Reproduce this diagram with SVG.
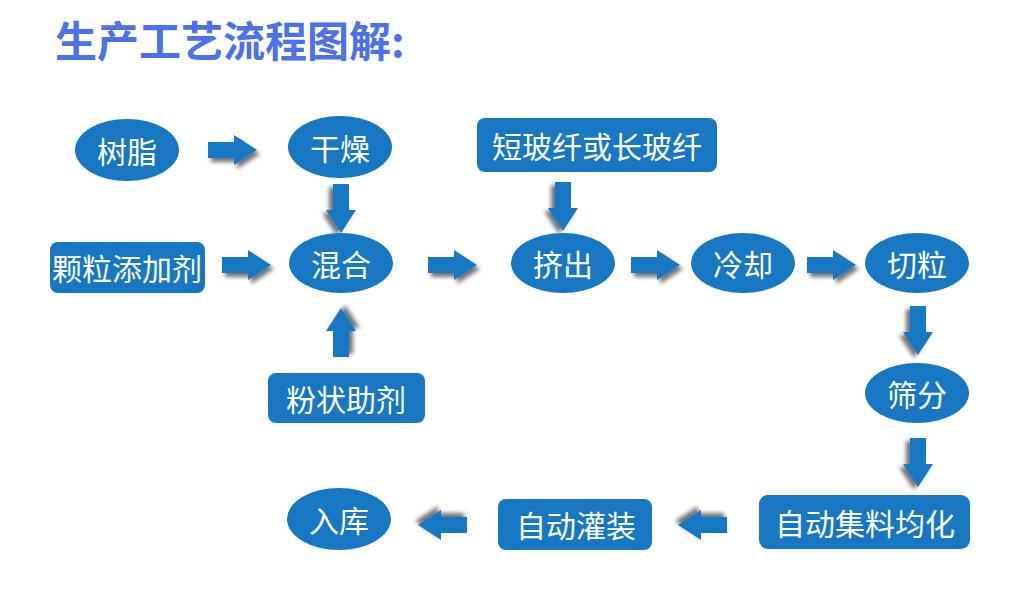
<svg xmlns="http://www.w3.org/2000/svg" width="1025" height="613" viewBox="0 0 1025 613">
<style>
.n{fill:#1877c3}
.t{fill:#fff;font-family:"Noto Sans CJK SC",sans-serif;font-size:30px;text-anchor:middle;dominant-baseline:central}
.title{fill:#4d70ec;font-family:"Noto Sans CJK SC",sans-serif;font-size:42px;font-weight:bold}
.a{fill:#1877c3;filter:url(#sh)}
</style>
<defs>
<filter id="sh" x="-30%" y="-30%" width="170%" height="170%">
<feDropShadow dx="3" dy="4" stdDeviation="2" flood-color="#000" flood-opacity="0.55"/>
</filter>
<path id="ar" d="M0,-8 H26 V-15 L49,0 L26,15 V8 H0 Z"/>
</defs>
<text class="title" x="55" y="57">生产工艺流程图解:</text>
<g id="connectors">
<use href="#ar" class="a" transform="translate(208,150)"/>
<use href="#ar" class="a" transform="translate(341,184) rotate(90)"/>
<use href="#ar" class="a" transform="translate(222,265)"/>
<use href="#ar" class="a" transform="translate(341,357) rotate(-90)"/>
<use href="#ar" class="a" transform="translate(428,265)"/>
<use href="#ar" class="a" transform="translate(563,182) rotate(90)"/>
<use href="#ar" class="a" transform="translate(631,265)"/>
<use href="#ar" class="a" transform="translate(807,265)"/>
<use href="#ar" class="a" transform="translate(918,306) rotate(90)"/>
<use href="#ar" class="a" transform="translate(918,438) rotate(90)"/>
<use href="#ar" class="a" transform="translate(727,525) rotate(180)"/>
<use href="#ar" class="a" transform="translate(467,525) rotate(180)"/>
</g>
<g id="resin"><ellipse class="n" cx="127" cy="150" rx="52" ry="31"/><text class="t" x="127" y="150">树脂</text></g>
<g id="dry"><ellipse class="n" cx="340" cy="147" rx="52" ry="31"/><text class="t" x="340" y="147">干燥</text></g>
<g id="additive"><rect class="n" x="50" y="242" width="155" height="51" rx="8"/><text class="t" x="127" y="267">颗粒添加剂</text></g>
<g id="mix"><ellipse class="n" cx="341" cy="263" rx="52" ry="30"/><text class="t" x="341" y="263">混合</text></g>
<g id="powder"><rect class="n" x="268" y="373" width="157" height="50" rx="8"/><text class="t" x="346" y="398">粉状助剂</text></g>
<g id="fiber"><rect class="n" x="477" y="118" width="240" height="54" rx="8"/><text class="t" x="597" y="145">短玻纤或长玻纤</text></g>
<g id="extrude"><ellipse class="n" cx="563" cy="263" rx="52" ry="30"/><text class="t" x="563" y="263">挤出</text></g>
<g id="cool"><ellipse class="n" cx="743" cy="263" rx="52" ry="30"/><text class="t" x="743" y="263">冷却</text></g>
<g id="cut"><ellipse class="n" cx="917" cy="263" rx="52" ry="30"/><text class="t" x="917" y="263">切粒</text></g>
<g id="sieve"><ellipse class="n" cx="917" cy="393" rx="52" ry="30"/><text class="t" x="917" y="393">筛分</text></g>
<g id="collect"><rect class="n" x="759" y="495" width="211" height="54" rx="9"/><text class="t" x="865" y="522">自动集料均化</text></g>
<g id="fill"><rect class="n" x="498" y="499" width="154" height="51" rx="8"/><text class="t" x="576" y="524">自动灌装</text></g>
<g id="store"><ellipse class="n" cx="339" cy="519" rx="52" ry="31"/><text class="t" x="339" y="519">入库</text></g>
</svg>
